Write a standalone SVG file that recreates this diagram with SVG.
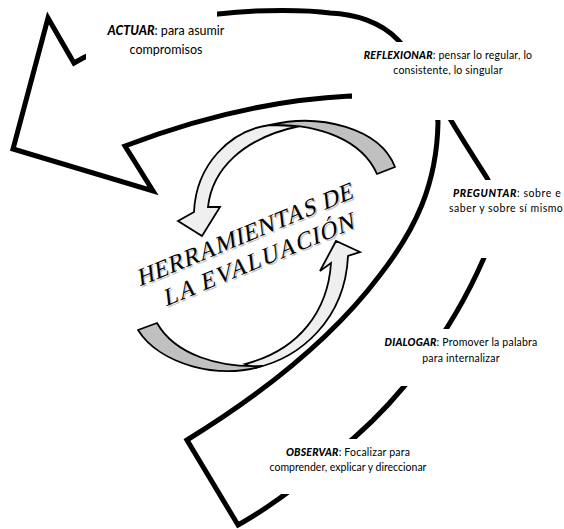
<svg xmlns="http://www.w3.org/2000/svg" width="564" height="529" viewBox="0 0 564 529">
<style>
.band{fill:#fff;stroke:#000;stroke-width:5;stroke-linejoin:miter;stroke-miterlimit:10}
.box{fill:#fff;stroke:none}
.lbl{font-family:Lato,"Liberation Sans",sans-serif;fill:#000}
.hd{font-weight:900;font-style:italic}
.grey{fill:#c0c0c0;stroke:#000;stroke-width:1.8;stroke-linejoin:round}
.light{fill:#efefef;stroke:#000;stroke-width:1.8;stroke-linejoin:miter}
.title{font-family:"Liberation Serif","DejaVu Serif",serif;font-size:24px;text-anchor:middle}
</style>
<rect width="564" height="529" fill="#fff"/>
<g id="cycle-arrow">
<path class="band" d="M238,525 C281,501 318,469 355,437 C395,402 448,340 483,260 C495,232 503,204 487,178 C475,159 462,139 452,122 C433,90 415,58 398,40 C381,22 355,14 330,13 C310,10 260,9 218,14 C170,20 120,38 83,58 L74,63 L48,18 L13,149 L153,191 L125,146 C190,121 270,100 350,96 C400,96 438,105 438,122 C437,185 415,230 380,275 C335,335 265,392 187,440 Z"/>
</g>
<g id="actuar">
<rect class="box" x="86" y="0" width="131" height="62"/>
<text class="lbl" x="166" y="35" font-size="12.5" text-anchor="middle"><tspan class="hd">ACTUAR</tspan>: para asumir</text>
<text class="lbl" x="166" y="54" font-size="12.5" text-anchor="middle">compromisos</text>
</g>
<g id="reflexionar">
<rect class="box" x="352" y="42" width="212" height="78"/>
<text class="lbl" x="448" y="59" font-size="10.5" text-anchor="middle" letter-spacing="0.2"><tspan class="hd">REFLEXIONAR</tspan>:  pensar lo regular, lo</text>
<text class="lbl" x="448" y="74" font-size="10.5" text-anchor="middle" letter-spacing="0.2">consistente, lo singular</text>
</g>
<g id="preguntar">
<rect class="box" x="442" y="180" width="122" height="78"/>
<text class="lbl" x="453" y="197" font-size="10.5" letter-spacing="0.6"><tspan class="hd">PREGUNTAR</tspan>: sobre e</text>
<text class="lbl" x="449" y="212" font-size="10.5" letter-spacing="0.5">saber y sobre sí mismo</text>
</g>
<g id="dialogar">
<rect class="box" x="378" y="329" width="172" height="57"/>
<text class="lbl" x="461" y="346" font-size="10.5" text-anchor="middle" letter-spacing="0.2"><tspan class="hd">DIALOGAR</tspan>: Promover la palabra</text>
<text class="lbl" x="461" y="362" font-size="10.5" text-anchor="middle" letter-spacing="0.2">para internalizar</text>
</g>
<g id="observar">
<rect class="box" x="262" y="439" width="170" height="55"/>
<text class="lbl" x="348" y="456" font-size="10.5" text-anchor="middle" letter-spacing="0.2"><tspan class="hd">OBSERVAR</tspan>:  Focalizar para</text>
<text class="lbl" x="348" y="471" font-size="10.5" text-anchor="middle">comprender, explicar y direccionar</text>
</g>
<g id="connectors">
<g id="arrow-upper">
<path class="light" d="M270,125 C230,130 196,165 194,212 L178,221 L202,236 L220,207 L208,207 C212,170 242,138 300,126 Z"/>
<path class="grey" d="M270,125 C320,113 380,128 395,167 L377,174 C362,140 320,124 270,125 Z"/>
</g>
<g id="arrow-lower">
<path class="light" d="M245,364 C300,350 328,310 331,263 L320,271 L336,241 L360,252 L348,256 C345,320 300,358 255,368 Z"/>
<path class="grey" d="M138,330 C160,365 220,380 262,366 C220,368 175,355 157,323 Z"/>
</g>
</g>
<g id="title">
<text class="title" transform="translate(248.5,243.5) rotate(-22.5) skewX(-16)" fill="#c4c4c4" letter-spacing="0.6">HERRAMIENTAS DE</text>
<text class="title" transform="translate(247,242) rotate(-22.5) skewX(-16)" fill="#000" letter-spacing="0.6">HERRAMIENTAS DE</text>
<text class="title" transform="translate(262.5,268.5) rotate(-22.5) skewX(-16)" fill="#c4c4c4" letter-spacing="1.2">LA EVALUACIÓN</text>
<text class="title" transform="translate(261,267) rotate(-22.5) skewX(-16)" fill="#000" letter-spacing="1.2">LA EVALUACIÓN</text>
</g>
</svg>
